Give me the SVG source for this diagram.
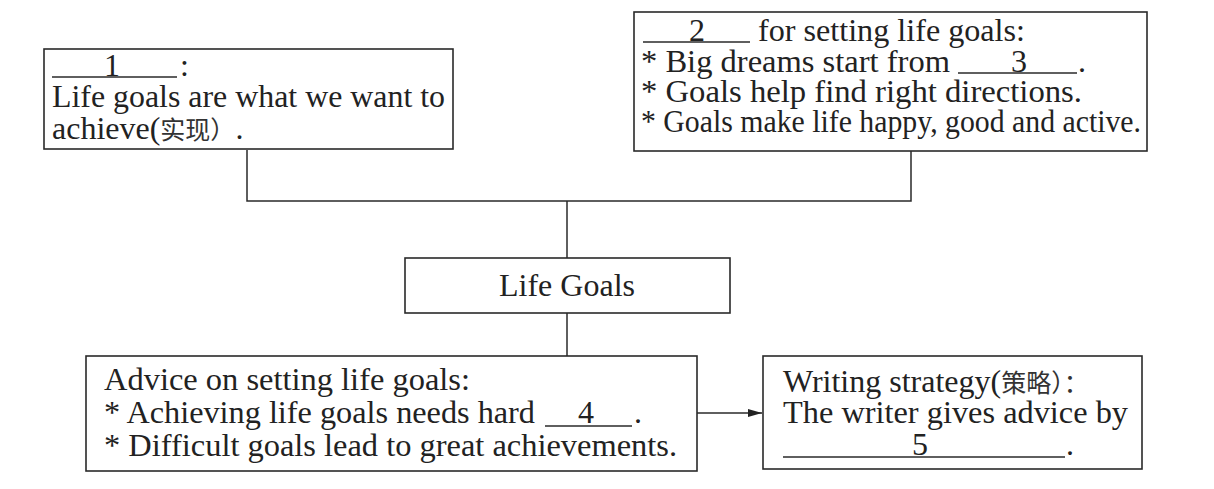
<svg xmlns="http://www.w3.org/2000/svg" width="1214" height="489" viewBox="0 0 1214 489">
<defs>
<marker id="arr" viewBox="0 0 10 10" refX="10" refY="5" markerWidth="14" markerHeight="8" markerUnits="userSpaceOnUse" orient="auto" preserveAspectRatio="none">
<path d="M0,0 L10,5 L0,10 z" fill="#222"/>
</marker>
</defs>
<style>
.box{fill:#fff;stroke:#2a2a2a;stroke-width:1.6}
.ln{fill:none;stroke:#2a2a2a;stroke-width:1.5}
.ul{stroke:#2a2a2a;stroke-width:1.3}
text{font-family:"Liberation Serif","Noto Sans CJK SC",serif;font-size:32px;fill:#222}
.cjk{font-family:"Noto Sans CJK SC",sans-serif;font-size:25px;fill:#333}
</style>
<rect width="1214" height="489" fill="#fff"/>
<g id="connectors">
<polyline class="ln" points="247,150 247,201 911,201 911,151"/>
<line class="ln" x1="567" y1="201" x2="567" y2="258"/>
<line class="ln" x1="567" y1="313" x2="567" y2="356"/>
<line class="ln" x1="697" y1="413" x2="762" y2="413" marker-end="url(#arr)"/>
</g>
<g id="node-definition">
<rect class="box" x="44" y="49" width="409" height="100"/>
<line class="ul" x1="52" y1="77" x2="177" y2="77"/>
<text x="112" y="76" text-anchor="middle">1</text>
<text x="180" y="76">:</text>
<text x="52" y="107" textLength="393" lengthAdjust="spacingAndGlyphs">Life goals are what we want to</text>
<text x="52" y="139">achieve(<tspan class="cjk">实现）</tspan>.</text>
</g>
<g id="node-reasons">
<rect class="box" x="634" y="12" width="513" height="139"/>
<line class="ul" x1="643" y1="42" x2="750" y2="42"/>
<text x="697" y="41" text-anchor="middle">2</text>
<text x="758" y="41" textLength="267" lengthAdjust="spacingAndGlyphs">for setting life goals:</text>
<text x="641" y="72" textLength="309" lengthAdjust="spacingAndGlyphs">* Big dreams start from</text>
<line class="ul" x1="958" y1="73" x2="1077" y2="73"/>
<text x="1019" y="72" text-anchor="middle">3</text>
<text x="1078" y="72">.</text>
<text x="641" y="102" textLength="441" lengthAdjust="spacingAndGlyphs">* Goals help find right directions.</text>
<text x="641" y="132" textLength="500" lengthAdjust="spacingAndGlyphs">* Goals make life happy, good and active.</text>
</g>
<g id="node-center">
<rect class="box" x="405" y="258" width="325" height="55"/>
<text x="567" y="296" text-anchor="middle">Life Goals</text>
</g>
<g id="node-advice">
<rect class="box" x="86" y="356" width="611" height="115"/>
<text x="104" y="390" textLength="366" lengthAdjust="spacingAndGlyphs">Advice on setting life goals:</text>
<text x="104" y="423" textLength="431" lengthAdjust="spacingAndGlyphs">* Achieving life goals needs hard</text>
<line class="ul" x1="545" y1="426" x2="632" y2="426"/>
<text x="586" y="423" text-anchor="middle">4</text>
<text x="634" y="423">.</text>
<text x="104" y="456" textLength="573" lengthAdjust="spacingAndGlyphs">* Difficult goals lead to great achievements.</text>
</g>
<g id="node-strategy">
<rect class="box" x="763" y="356" width="379" height="113"/>
<text x="783" y="392">Writing strategy(<tspan class="cjk">策略）：</tspan></text>
<text x="783" y="423" textLength="345" lengthAdjust="spacingAndGlyphs">The writer gives advice by</text>
<line class="ul" x1="783" y1="457" x2="1065" y2="457"/>
<text x="920" y="455" text-anchor="middle">5</text>
<text x="1066" y="455">.</text>
</g>
</svg>
